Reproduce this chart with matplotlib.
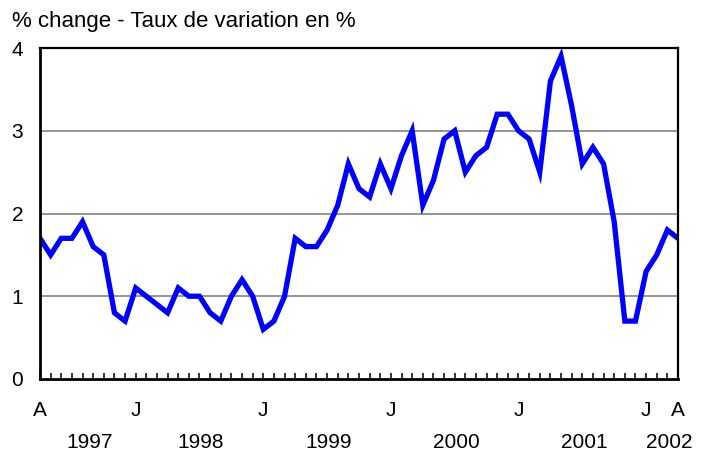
import matplotlib
matplotlib.use("Agg")
import matplotlib.pyplot as plt
import matplotlib.transforms as mtransforms
import numpy as np
import pandas as pd

# Data: 12-month % change, April 1997 to April 2002
months = pd.period_range("1997-04", "2002-04", freq="M")
values = [1.7, 1.5, 1.7, 1.7, 1.9, 1.6, 1.5, 0.8, 0.7,
          1.1, 1.0, 0.9, 0.8, 1.1, 1.0, 1.0, 0.8, 0.7, 1.0, 1.2, 1.0,
          0.6, 0.7, 1.0, 1.7, 1.6, 1.6, 1.8, 2.1, 2.6, 2.3, 2.2, 2.6,
          2.3, 2.7, 3.0, 2.1, 2.4, 2.9, 3.0, 2.5, 2.7, 2.8, 3.2, 3.2,
          3.0, 2.9, 2.5, 3.6, 3.9, 3.3, 2.6, 2.8, 2.6, 1.9, 0.7, 0.7,
          1.3, 1.5, 1.8, 1.7]
month_letters = ["J", "F", "M", "A", "M", "J", "J", "A", "S", "O", "N", "D"]
title = "% change - Taux de variation en %"
y_ticks = [0, 1, 2, 3, 4]

plt.rcParams["font.family"] = ["Liberation Sans", "DejaVu Sans"]
FS = 15

fig = plt.figure(figsize=(7.02, 4.54), dpi=100)
ax = fig.add_axes([40 / 702, 1 - 379 / 454, 638 / 702, 331 / 454])

x = np.arange(len(values))
ax.plot(x, values, color="#0000ff", lw=3.8, solid_joinstyle="miter", zorder=3)

ax.set_xlim(0, len(values) - 1)
ax.set_ylim(0, 4)

# gridlines
for yv in y_ticks[1:-1]:
    ax.axhline(yv, color="#8c8c8c", lw=1.3, zorder=1)

# x ticks: labelled first, Januaries, last
major_pos = [i for i, m in enumerate(months)
             if i == 0 or i == len(months) - 1 or m.month == 1]
major_lab = [month_letters[months[i].month - 1] for i in major_pos]
ax.set_xticks(major_pos)
ax.set_xticklabels(major_lab, fontsize=FS)
ax.set_xticks([i for i in x if i not in major_pos], minor=True)
ax.tick_params(axis="x", which="both", direction="in", length=4.5,
               width=1.1, color="black")
ax.tick_params(axis="x", which="major", pad=16)

ax.set_yticks(y_ticks)
ax.set_yticklabels([str(v) for v in y_ticks], fontsize=FS)
ax.tick_params(axis="y", length=0, pad=12)

# year labels centred under each year's months
trans = mtransforms.blended_transform_factory(ax.transData, ax.transAxes)
years = sorted(set(m.year for m in months))
for yr in years:
    idx = [i for i, m in enumerate(months) if m.year == yr]
    ax.text(np.mean(idx) + 0.65, -0.192, str(yr), transform=trans,
            ha="center", va="center", fontsize=FS)

for s in ["left", "bottom"]:
    ax.spines[s].set_linewidth(2.0)
for s in ["top", "right"]:
    ax.spines[s].set_linewidth(1.6)
for s in ax.spines.values():
    s.set_color("black")
    s.set_zorder(4)

fig.text(12 / 702, 1 - 21 / 454, title, ha="left", va="center", fontsize=16)

fig.savefig("out.png", dpi=100)
